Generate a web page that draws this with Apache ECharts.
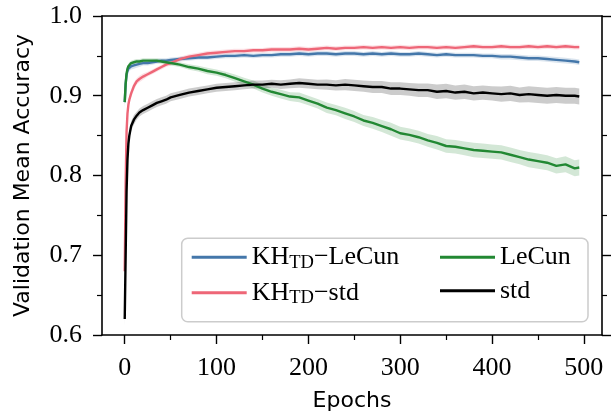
<!DOCTYPE html>
<html>
<head>
<meta charset="utf-8">
<script src="https://cdn.jsdelivr.net/npm/echarts@6.0.0/dist/echarts.min.js"></script>
<style>
  html, body { margin: 0; padding: 0; background: #fff; }
  #chart { width: 613px; height: 411px; }
</style>
</head>
<body>
<div id="chart"></div>
<script>
// epochs sampled from the curves
const epochs = [0, 1, 2, 3, 4, 5, 7, 10, 13, 16, 20, 25, 30, 35, 40, 45,
  50, 60, 70, 80, 90, 100, 110, 120, 130, 140, 150, 160, 170, 180, 190, 200,
  210, 220, 230, 240, 250, 260, 270, 280, 290, 300, 310, 320, 330, 340, 350,
  360, 370, 380, 390, 400, 410, 420, 430, 440, 450, 460, 470, 480, 490, 495];

const khLecun = [0.892, 0.915, 0.926, 0.931, 0.934, 0.935, 0.937, 0.938, 0.939, 0.940, 0.941, 0.941, 0.942, 0.943, 0.944, 0.944,
  0.945, 0.946, 0.947, 0.948, 0.948, 0.949, 0.950, 0.950, 0.951, 0.950, 0.951, 0.951, 0.952, 0.952, 0.953, 0.952,
  0.953, 0.953, 0.952, 0.953, 0.953, 0.952, 0.953, 0.952, 0.953, 0.952, 0.952, 0.953, 0.952, 0.951, 0.952,
  0.951, 0.951, 0.951, 0.950, 0.950, 0.949, 0.949, 0.948, 0.947, 0.947, 0.946, 0.945, 0.944, 0.943, 0.942];
const khLecunErr = [0.006, 0.005, 0.004, 0.004, 0.004, 0.004, 0.004, 0.004, 0.004, 0.004, 0.003, 0.003, 0.003, 0.003, 0.003, 0.003,
  0.003, 0.003, 0.003, 0.003, 0.003, 0.003, 0.003, 0.003, 0.003, 0.003, 0.003, 0.003, 0.003, 0.003, 0.003, 0.003,
  0.003, 0.003, 0.003, 0.003, 0.003, 0.003, 0.003, 0.003, 0.003, 0.003, 0.003, 0.003, 0.003, 0.003, 0.003,
  0.003, 0.003, 0.003, 0.003, 0.003, 0.0035, 0.0035, 0.0035, 0.0035, 0.0035, 0.0035, 0.0035, 0.0035, 0.0035, 0.0035];

const khStd = [0.680, 0.790, 0.855, 0.878, 0.889, 0.895, 0.903, 0.912, 0.918, 0.921, 0.924, 0.927, 0.930, 0.933, 0.936, 0.939,
  0.941, 0.946, 0.949, 0.951, 0.953, 0.954, 0.955, 0.956, 0.956, 0.957, 0.957, 0.958, 0.958, 0.958, 0.959, 0.958,
  0.959, 0.960, 0.959, 0.960, 0.960, 0.961, 0.960, 0.961, 0.960, 0.961, 0.960, 0.961, 0.961, 0.960, 0.961,
  0.960, 0.961, 0.962, 0.961, 0.961, 0.962, 0.961, 0.961, 0.962, 0.961, 0.962, 0.961, 0.962, 0.961, 0.961];
const khStdErr = [0.012, 0.010, 0.008, 0.006, 0.005, 0.005, 0.005, 0.005, 0.004, 0.004, 0.004, 0.003, 0.003, 0.003, 0.003, 0.003,
  0.003, 0.003, 0.003, 0.003, 0.003, 0.003, 0.003, 0.003, 0.003, 0.003, 0.003, 0.003, 0.003, 0.003, 0.003, 0.003,
  0.003, 0.003, 0.003, 0.003, 0.003, 0.003, 0.003, 0.003, 0.003, 0.003, 0.003, 0.003, 0.003, 0.003, 0.003,
  0.003, 0.003, 0.003, 0.003, 0.003, 0.003, 0.003, 0.003, 0.003, 0.003, 0.003, 0.003, 0.003, 0.003, 0.003];

const lecun = [0.892, 0.915, 0.928, 0.934, 0.937, 0.939, 0.941, 0.942, 0.943, 0.943, 0.944, 0.944, 0.944, 0.944, 0.943, 0.942,
  0.941, 0.939, 0.936, 0.934, 0.931, 0.929, 0.926, 0.922, 0.918, 0.914, 0.909, 0.905, 0.902, 0.899, 0.898, 0.894,
  0.890, 0.885, 0.882, 0.878, 0.874, 0.869, 0.866, 0.862, 0.858, 0.853, 0.851, 0.848, 0.844, 0.841, 0.837,
  0.836, 0.834, 0.832, 0.831, 0.830, 0.829, 0.826, 0.823, 0.820, 0.818, 0.816, 0.812, 0.814, 0.809, 0.810];
const lecunErr = [0.006, 0.005, 0.004, 0.003, 0.003, 0.003, 0.003, 0.003, 0.003, 0.003, 0.003, 0.003, 0.003, 0.003, 0.003, 0.003,
  0.003, 0.003, 0.0035, 0.0035, 0.004, 0.004, 0.004, 0.0045, 0.0045, 0.005, 0.005, 0.005, 0.0055, 0.0055, 0.006, 0.006,
  0.006, 0.0065, 0.0065, 0.007, 0.007, 0.007, 0.0075, 0.0075, 0.008, 0.008, 0.008, 0.008, 0.008, 0.0085, 0.0085,
  0.0085, 0.0085, 0.009, 0.009, 0.009, 0.009, 0.009, 0.009, 0.0095, 0.0095, 0.0095, 0.0095, 0.010, 0.010, 0.010];

const std = [0.620, 0.700, 0.780, 0.820, 0.840, 0.850, 0.862, 0.870, 0.875, 0.879, 0.882, 0.885, 0.888, 0.891, 0.893, 0.895,
  0.898, 0.901, 0.904, 0.906, 0.908, 0.910, 0.911, 0.912, 0.913, 0.914, 0.914, 0.915, 0.914, 0.915, 0.916, 0.915,
  0.914, 0.914, 0.913, 0.914, 0.913, 0.912, 0.911, 0.911, 0.909, 0.909, 0.908, 0.907, 0.907, 0.905, 0.906,
  0.904, 0.905, 0.903, 0.904, 0.903, 0.902, 0.903, 0.901, 0.902, 0.901, 0.900, 0.901, 0.900, 0.900, 0.899];
const stdErr = [0.010, 0.012, 0.010, 0.008, 0.006, 0.006, 0.006, 0.006, 0.005, 0.005, 0.005, 0.005, 0.005, 0.005, 0.005, 0.005,
  0.005, 0.005, 0.005, 0.005, 0.005, 0.005, 0.005, 0.005, 0.005, 0.005, 0.005, 0.005, 0.0055, 0.0055, 0.006, 0.006,
  0.006, 0.0065, 0.0065, 0.007, 0.007, 0.007, 0.0075, 0.0075, 0.008, 0.008, 0.008, 0.0085, 0.0085, 0.009, 0.009,
  0.009, 0.009, 0.009, 0.009, 0.009, 0.0095, 0.0095, 0.0095, 0.010, 0.010, 0.010, 0.010, 0.010, 0.010, 0.010];

const xMajorTicks = [0, 100, 200, 300, 400, 500];
const xMinorTicks = [50, 150, 250, 350, 450];

const serif = "'Liberation Serif', 'DejaVu Serif', serif";
const sans = "'DejaVu Sans', sans-serif";

const chart = echarts.init(document.getElementById('chart'), null, { renderer: 'canvas' });

function lineSeries(name, color, mean) {
  return {
    name: name,
    type: 'line',
    z: 3,
    color: color,
    showSymbol: false,
    symbol: 'none',
    animation: false,
    lineStyle: { color: color, width: 2.4 },
    data: epochs.map((e, i) => [e, mean[i]])
  };
}

// shaded band (mean +/- err) drawn as one polygon
function bandSeries(name, fill, mean, err) {
  const rows = epochs.map((e, i) => [e, mean[i] - err[i], mean[i] + err[i]]);
  return {
    name: name + ' band',
    type: 'custom',
    z: 1,
    silent: true,
    animation: false,
    data: rows,
    encode: { x: 0, y: [1, 2] },
    renderItem: function (params, api) {
      if (params.dataIndex !== 0) return null;
      const pts = [];
      for (let i = 0; i < rows.length; i++) pts.push(api.coord([rows[i][0], rows[i][2]]));
      for (let i = rows.length - 1; i >= 0; i--) pts.push(api.coord([rows[i][0], rows[i][1]]));
      return { type: 'polygon', shape: { points: pts }, style: { fill: fill } };
    }
  };
}

const legendText = {
  'KH-LeCun': '{n|KH}{s|TD}{n|\u2212LeCun}',
  'KH-std': '{n|KH}{s|TD}{n|\u2212std}',
  'LeCun': '{n|LeCun}',
  'std': '{n|std}'
};

function legendColumn(names, left) {
  return {
    left: left,
    top: 244.3,
    orient: 'vertical',
    z: 20,
    padding: 0,
    itemGap: 7.4,
    itemWidth: 55,
    itemHeight: 3,
    icon: 'rect',
    data: names,
    formatter: function (name) { return legendText[name]; },
    textStyle: {
      color: '#000',
      rich: {
        n: { fontFamily: serif, fontSize: 26, lineHeight: 30, color: '#000' },
        s: { fontFamily: serif, fontSize: 18.5, lineHeight: 30, verticalAlign: 'bottom', color: '#000' }
      }
    }
  };
}

const yAxisCommon = {
  type: 'value',
  min: 0.6,
  max: 1.0,
  interval: 0.1,
  axisLine: { show: true, onZero: false, lineStyle: { color: '#000', width: 1.6 } },
  axisTick: { show: true, inside: false, length: 9, lineStyle: { color: '#000', width: 1.4 } },
  minorTick: { show: true, splitNumber: 2, length: 5, lineStyle: { color: '#000', width: 1.2 } },
  splitLine: { show: false },
  minorSplitLine: { show: false }
};

const option = {
  backgroundColor: '#fff',
  animation: false,
  grid: { left: 102, right: 11, top: 16, bottom: 76, containLabel: false, outerBoundsMode: 'none' },
  graphic: [{
    type: 'rect',
    z: 15,
    silent: true,
    shape: { x: 181.7, y: 238.3, width: 406.3, height: 83.4, r: 6 },
    style: { fill: 'rgba(255,255,255,0.8)', stroke: '#cccccc', lineWidth: 1.5 }
  }],
  legend: [
    legendColumn(['KH-LeCun', 'KH-std'], 191.7),
    legendColumn(['LeCun', 'std'], 440)
  ],
  xAxis: [
    {
      type: 'value',
      position: 'bottom',
      min: -24.75,
      max: 519.75,
      name: 'Epochs',
      nameLocation: 'middle',
      nameGap: 55,
      nameTextStyle: { fontFamily: sans, fontSize: 22, color: '#000' },
      axisLine: { show: true, onZero: false, lineStyle: { color: '#000', width: 1.6 } },
      axisTick: { show: true, length: 9, customValues: xMajorTicks, lineStyle: { color: '#000', width: 1.4 } },
      axisLabel: { show: true, customValues: xMajorTicks, margin: 20, fontFamily: serif, fontSize: 26, color: '#000' },
      splitLine: { show: false }
    },
    {
      type: 'value',
      position: 'bottom',
      min: -24.75,
      max: 519.75,
      axisLine: { show: false },
      axisTick: { show: true, length: 5, customValues: xMinorTicks, lineStyle: { color: '#000', width: 1.2 } },
      axisLabel: { show: false },
      splitLine: { show: false }
    },
    {
      type: 'value',
      position: 'top',
      min: -24.75,
      max: 519.75,
      axisLine: { show: true, onZero: false, lineStyle: { color: '#000', width: 1.6 } },
      axisTick: { show: false },
      axisLabel: { show: false },
      splitLine: { show: false }
    }
  ],
  yAxis: [
    Object.assign({}, yAxisCommon, {
      position: 'left',
      name: 'Validation Mean Accuracy',
      nameLocation: 'middle',
      nameRotate: 90,
      nameGap: 68,
      nameTextStyle: { fontFamily: sans, fontSize: 22, color: '#000' },
      axisLabel: {
        show: true, margin: 20, fontFamily: serif, fontSize: 26, color: '#000',
        formatter: function (v) { return v.toFixed(1); }
      }
    }),
    Object.assign({}, yAxisCommon, {
      position: 'right',
      axisLabel: { show: false }
    })
  ],
  series: [
    bandSeries('KH-LeCun', 'rgba(68,119,170,0.2)', khLecun, khLecunErr),
    bandSeries('KH-std', 'rgba(238,102,119,0.2)', khStd, khStdErr),
    bandSeries('LeCun', 'rgba(34,136,51,0.2)', lecun, lecunErr),
    bandSeries('std', 'rgba(0,0,0,0.2)', std, stdErr),
    lineSeries('KH-LeCun', '#4477AA', khLecun),
    lineSeries('KH-std', '#EE6677', khStd),
    lineSeries('LeCun', '#228833', lecun),
    lineSeries('std', '#000000', std)
  ]
};

chart.setOption(option);
</script>
</body>
</html>
